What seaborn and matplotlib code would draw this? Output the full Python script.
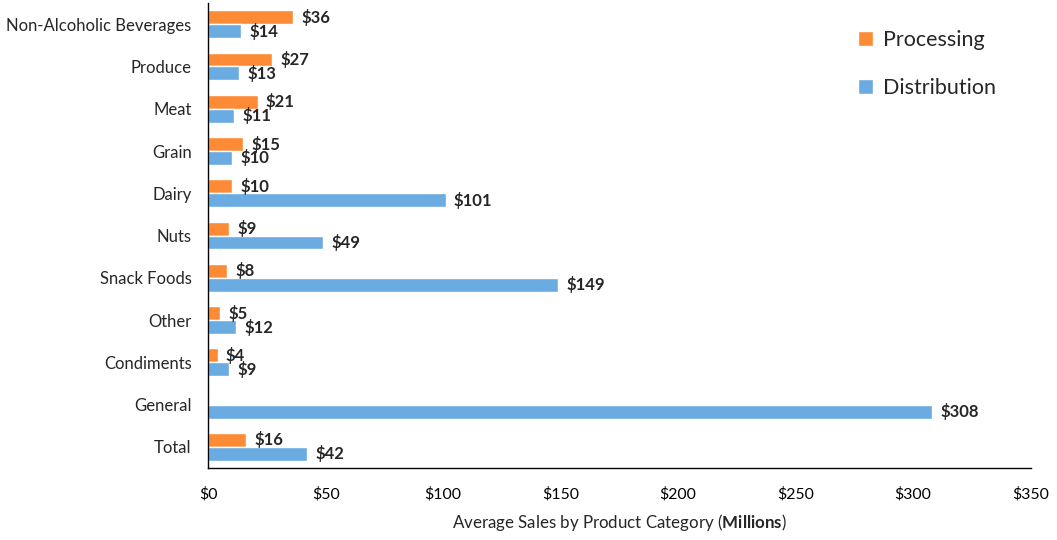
import pandas as pd
import numpy as np
import seaborn as sns
import matplotlib.pyplot as plt

categories = ["Non-Alcoholic Beverages", "Produce", "Meat", "Grain", "Dairy", "Nuts",
              "Snack Foods", "Other", "Condiments", "General", "Total"]
processing = [36, 27, 21, 15, 10, 9, 8, 5, 4, np.nan, 16]
distribution = [14, 13, 11, 10, 101, 49, 149, 12, 9, 308, 42]
xticks = [0, 50, 100, 150, 200, 250, 300, 350]

df = pd.DataFrame({
    "Category": categories * 2,
    "Sales": processing + distribution,
    "Type": ["Processing"] * len(categories) + ["Distribution"] * len(categories),
})

sns.set_style("white")
plt.rcParams['font.family'] = ['Lato', 'DejaVu Sans']
plt.rcParams['mathtext.fontset'] = 'custom'
plt.rcParams['mathtext.rm'] = 'Lato'
plt.rcParams['mathtext.bf'] = 'Lato:bold'

fig = plt.figure(figsize=(10.57, 5.4), dpi=100)
ax = fig.add_axes([0.197, 0.1333, 0.778, 0.861])

colors = {"Processing": "#FD8B35", "Distribution": "#6AABE1"}
sns.barplot(data=df, y="Category", x="Sales", hue="Type", order=categories,
            hue_order=["Processing", "Distribution"], palette=colors,
            width=0.66, orient="h", ax=ax, saturation=1)

# value labels next to each bar
for cont in ax.containers:
    vals = cont.datavalues
    labels = ["" if np.isnan(v) else f"${v:.0f}" for v in vals]
    ax.bar_label(cont, labels=labels, padding=6, fontsize=12, fontweight="bold")

ax.set_xlim(0, 350)
ax.set_ylim(len(categories) - 0.5, -0.5)
ax.set_xticks(xticks)
ax.set_xticklabels([f"${t}" for t in xticks], fontsize=11.4)
ax.tick_params(axis="x", direction="in", length=5, width=1, pad=14, colors="black")
ax.tick_params(axis="y", length=0, pad=12, labelsize=12)
ax.set_ylabel("")
ax.set_xlabel(r"Average Sales by Product Category ($\bf{Millions}$)", fontsize=12.2, labelpad=7)

for s in ["top", "right"]:
    ax.spines[s].set_visible(False)
for s in ["left", "bottom"]:
    ax.spines[s].set_color("black")
    ax.spines[s].set_linewidth(1)

handles, labs = ax.get_legend_handles_labels()
ax.legend(handles, labs, loc="upper left", bbox_to_anchor=(0.793, 0.98),
          bbox_transform=fig.transFigure, frameon=False, fontsize=15.5,
          handlelength=0.7, handleheight=0.7, handletextpad=0.5, labelspacing=1.3)

fig.savefig("out.png", dpi=100)
